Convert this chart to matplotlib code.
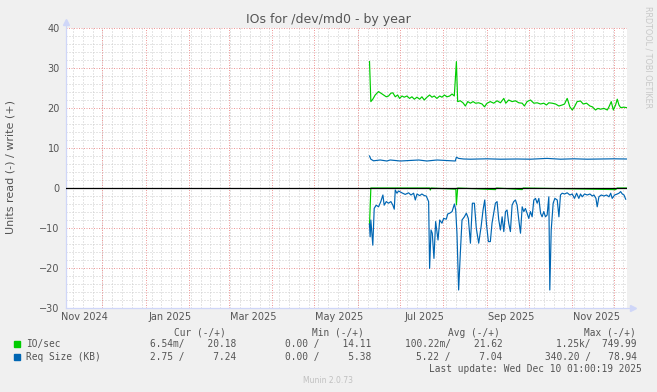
import matplotlib
matplotlib.use("Agg")
import matplotlib.pyplot as plt
from matplotlib.patches import Rectangle
from matplotlib.ticker import MultipleLocator
import pandas as pd

# Colores de Munin
FONDO = "#F0F0F0"
EJE = "#CFD6F8"
TEXTO = "#555555"
REJILLA = "#CCCCCC"
REJILLA_MAYOR = "#EE9A9A"
VERDE = "#00CC00"
AZUL = "#0066B3"

# Datos: días contados desde el 1 de junio de 2025
base = pd.Timestamp("2025-06-01")

# IO/sec escritura (+)
dias_io_w = [8.45, 9.4, 10.8, 12.5, 14.9, 16.6, 18.5, 20.4, 22.0, 23.7, 25.1, 26.8, 28.5, 29.9,
             31.6, 33.2, 35.1, 37.0, 38.7, 40.4, 42.3, 44.2, 45.8, 47.5, 49.4, 51.3, 53.0, 54.6,
             56.5, 58.5, 60.1, 61.8, 63.7, 65.6, 67.3, 68.9, 70.4, 71.3, 73.2, 75.1, 76.8, 78.5,
             80.4, 82.3, 84.0, 86.3, 88.7, 90.4, 92.3, 94.6, 97.0, 99.4, 101.8, 104.2, 105.6,
             107.7, 110.1, 112.5, 114.9, 117.3, 118.9, 120.8, 123.2, 125.6, 128.0, 130.4, 132.7,
             134.6, 136.3, 138.7, 141.1, 143.5, 145.8, 147.5, 149.4, 151.3, 153.0, 154.6, 156.5,
             158.9, 160.8, 163.2, 165.6, 167.3, 169.6, 171.3, 173.2, 175.6, 178.0, 179.2, 180.8,
             182.3, 183.9, 185.1, 186.3, 187.5, 189.9, 191.6]
io_w = [31.6, 21.6, 22.2, 23.25, 24.1, 23.7, 23.25, 22.8, 23.0, 23.7, 23.8, 22.8, 23.25, 22.4,
        23.0, 22.7, 23.0, 22.4, 22.8, 22.2, 22.7, 22.2, 22.8, 22.0, 22.7, 23.25, 22.7, 23.0,
        22.4, 23.0, 22.7, 23.25, 22.8, 23.0, 23.5, 23.0, 31.6, 21.6, 21.8, 21.3, 20.5, 21.6,
        21.2, 21.6, 21.2, 21.3, 21.0, 20.3, 21.2, 21.6, 21.2, 21.8, 21.3, 22.4, 21.2,
        22.0, 21.6, 21.8, 21.3, 21.2, 20.5, 21.6, 22.0, 21.2, 21.3, 21.0, 21.2,
        20.75, 21.3, 21.2, 21.0, 20.5, 20.75, 21.0, 22.4, 20.3, 19.5, 20.3, 21.6,
        21.75, 21.0, 21.2, 20.5, 20.3, 19.5, 19.9, 19.7, 19.9, 19.5, 20.3, 21.6,
        19.5, 20.75, 22.2, 20.75, 20.1, 20.2, 20.1]

# IO/sec lectura (-)
dias_io_r = [8.45, 9.4, 51.3, 51.8, 52.3, 70.0, 70.4, 71.3, 98.2, 99.0, 117.3, 118.0, 184.0,
             185.0, 191.6]
io_r = [9.2, 0.0, 0.0, 0.5, 0.0, 0.3, 4.2, 0.0, 0.4, 0.0, 0.4, 0.0, 0.4, 0.0, 0.0]

# Req Size escritura (+)
dias_req_w = [8.45, 9.4, 11.3, 16.1, 20.8, 23.2, 30.4, 43.5, 49.4, 56.5, 69.6, 70.4, 72.0,
              75.6, 80.4, 92.3, 101.8, 113.7, 123.2, 135.1, 144.6, 154.2, 163.7, 173.2,
              182.7, 191.6]
req_w = [8.0, 7.2, 6.8, 7.0, 6.75, 7.0, 6.75, 7.0, 6.75, 7.0, 6.75, 7.7, 7.4,
         7.25, 7.2, 7.3, 7.2, 7.25, 7.2, 7.4, 7.2, 7.3, 7.2, 7.25, 7.3, 7.25]

# Req Size lectura (-)
dias_req_r = [8.4, 8.9, 9.4, 10.8, 11.8, 13.2, 14.9, 16.5, 18.0, 18.9, 20.4, 22.0, 23.7, 25.1,
              26.1, 26.8, 28.0, 29.2, 31.5, 33.9, 36.3, 38.0, 39.9, 41.1, 42.3, 44.2, 45.8,
              47.5, 48.9, 50.6, 51.3, 52.3, 53.2, 54.4, 55.6, 57.3, 58.5, 60.1, 61.3, 63.2,
              64.2, 65.6, 67.3, 69.0, 69.9, 70.8, 72.0, 73.2, 74.4, 76.1, 77.5, 78.9, 80.4,
              81.8, 83.2, 84.6, 86.3, 88.0, 89.4, 90.6, 91.8, 93.2, 94.6, 95.8, 97.0, 98.2,
              99.4, 100.6, 101.8, 103.0, 104.2, 105.4, 106.5, 107.7, 108.9, 110.1, 111.3,
              112.5, 113.7, 114.9, 116.1, 117.3, 118.5, 119.6, 120.8, 122.0, 123.2, 124.4,
              125.6, 126.8, 128.0, 129.2, 130.4, 131.5, 132.7, 133.9, 135.1, 136.3, 137.0,
              138.0, 139.4, 140.6, 142.3, 143.5, 144.6, 145.8, 147.5, 149.4, 151.3, 153.0,
              154.6, 156.1, 157.7, 158.9, 160.1, 161.8, 163.7, 165.6, 167.3, 168.5, 169.9,
              170.8, 172.0, 173.7, 175.6, 177.5, 179.2, 180.4, 181.5, 183.2, 185.1, 186.3,
              187.5, 188.7, 189.9, 191.1]
req_r = [9.0, 12.2, 8.0, 14.3, 5.1, 4.3, 4.7, 3.4, 1.75, 4.3, 3.4, 3.8, 3.4, 4.3,
         5.3, 0.5, 1.3, 0.75, 1.2, 1.6, 1.2, 1.75, 1.3, 3.0, 1.5, 1.9, 1.5,
         1.9, 2.0, 3.4, 20.1, 10.5, 11.3, 17.6, 8.4, 13.0, 8.0, 8.8, 7.6, 7.8,
         6.5, 6.3, 5.9, 4.0, 5.5, 11.3, 25.5, 16.3, 8.0, 7.2, 6.3, 7.6, 13.8,
         3.8, 3.8, 10.1, 13.8, 9.7, 5.5, 3.0, 8.8, 13.4, 13.4, 8.8, 6.3, 3.8,
         3.4, 8.0, 10.5, 7.2, 10.9, 5.9, 5.5, 8.8, 10.9, 4.3, 3.4,
         3.0, 4.3, 8.0, 11.3, 4.7, 5.9, 5.1, 6.3, 7.6, 5.9, 7.2,
         3.0, 2.6, 3.8, 2.6, 6.3, 7.2, 5.9, 7.2, 6.75, 2.2, 25.5,
         10.5, 3.8, 2.6, 3.0, 7.2, 1.75, 1.3, 1.5, 1.2, 1.75, 1.5,
         2.6, 1.3, 2.6, 1.5, 2.2, 1.5, 1.75, 1.5, 2.0, 1.75, 2.6,
         4.7, 2.2, 1.75, 2.0, 1.75, 2.2, 1.3, 2.6, 1.75, 1.5, 1.3,
         0.9, 1.5, 1.75, 2.8]

# Leyenda
series = ["IO/sec", "Req Size (KB)"]
colores = [VERDE, AZUL]
cur = ["6.54m/    20.18", "2.75 /     7.24"]
minimo = ["0.00 /    14.11", "0.00 /     5.38"]
media = ["100.22m/    21.62", "5.22 /     7.04"]
maximo = ["1.25k/  749.99", "340.20 /   78.94"]


def fechas(dias):
    return base + pd.to_timedelta(dias, unit="D")


W, H = 657, 392
fig = plt.figure(figsize=(W / 100, H / 100), dpi=100, facecolor=FONDO)
ax = fig.add_axes([66 / W, 1 - 308 / H, 561 / W, 280 / H])
ax.set_facecolor("white")

inicio = pd.Timestamp("2024-11-05 01:00")
fin = pd.Timestamp("2025-12-10 01:00")
ax.set_xlim(inicio, fin)
ax.set_ylim(-30, 40)

# Rejilla vertical: semanas (domingo) y meses
meses = pd.date_range("2024-12-01", "2025-12-01", freq="MS")
for s in pd.date_range(inicio, fin, freq="W-SUN"):
    if s not in meses:
        ax.axvline(s, color=REJILLA, lw=0.72, ls=(0, (1, 2)), zorder=0.5)
for m in meses:
    ax.axvline(m, color=REJILLA_MAYOR, lw=0.72, ls=(0, (1, 1.5)), zorder=0.6)

# Rejilla horizontal
ax.yaxis.set_major_locator(MultipleLocator(10))
ax.yaxis.set_minor_locator(MultipleLocator(2))
ax.grid(axis="y", which="minor", color=REJILLA, lw=0.72, ls=(0, (1, 2)))
ax.grid(axis="y", which="major", color=REJILLA_MAYOR, lw=0.72, ls=(0, (1, 1.5)))
ax.set_axisbelow(True)

# Etiquetas del eje x cada dos meses
meses_etiqueta = pd.date_range("2024-11-01", "2025-11-01", freq="2MS")
ax.set_xticks(meses_etiqueta + pd.Timedelta(days=17.5))
ax.set_xticklabels([m.strftime("%b %Y") for m in meses_etiqueta])

ax.tick_params(axis="both", which="both", length=0, labelsize=7, colors=TEXTO)
ax.tick_params(axis="y", pad=4.5)
ax.tick_params(axis="x", pad=3.0)
for sp in ax.spines.values():
    sp.set_visible(False)

# Series (lectura en negativo, escritura en positivo)
ax.plot(fechas(dias_io_r), [-v for v in io_r], color=VERDE, lw=0.85)
ax.plot(fechas(dias_io_w), io_w, color=VERDE, lw=0.85)
ax.plot(fechas(dias_req_r), [-v for v in req_r], color=AZUL, lw=0.85)
ax.plot(fechas(dias_req_w), req_w, color=AZUL, lw=0.85)
ax.axhline(0, color="black", lw=0.9, zorder=3)

# Ejes con flechas
ax.plot([0, 0], [0, 1.022], transform=ax.transAxes, color=EJE, lw=0.9, clip_on=False)
ax.plot([0], [1.022], marker="^", ms=4.5, color=EJE, transform=ax.transAxes, clip_on=False)
ax.plot([0, 1.011], [0, 0], transform=ax.transAxes, color=EJE, lw=0.9, clip_on=False)
ax.plot([1.011], [0], marker=">", ms=4.5, color=EJE, transform=ax.transAxes, clip_on=False)

# Títulos
fig.text(328.5 / W, 1 - 19 / H, "IOs for /dev/md0 - by year", ha="center", va="center",
         fontsize=9, color=TEXTO)
fig.text(10.5 / W, 1 - 167 / H, "Units read (-) / write (+)", rotation=90, ha="center",
         va="center", fontsize=8, color=TEXTO)
fig.text(648 / W, 1 - 57 / H, "RRDTOOL / TOBI OETIKER", rotation=270, ha="center",
         va="center", fontsize=5.8, color="#C8C8C8")

# Leyenda
mono = dict(family="DejaVu Sans Mono", fontsize=6.85, color=TEXTO, va="center")
fila_y = [344.3, 356.7]
for x, txt in [(226.2, "Cur (-/+)"), (363.7, "Min (-/+)"), (499.4, "Avg (-/+)"), (636, "Max (-/+)")]:
    fig.text(x / W, 1 - 332.7 / H, txt, ha="right", **mono)
for i, nombre in enumerate(series):
    y = fila_y[i]
    fig.add_artist(Rectangle((14 / W, 1 - (y + 3) / H), 6 / W, 6 / H, color=colores[i],
                             transform=fig.transFigure))
    fig.text(26 / W, 1 - y / H, nombre, ha="left", **mono)
    fig.text(236.7 / W, 1 - y / H, cur[i], ha="right", **mono)
    fig.text(370.8 / W, 1 - y / H, minimo[i], ha="right", **mono)
    fig.text(502.7 / W, 1 - y / H, media[i], ha="right", **mono)
    fig.text(636.8 / W, 1 - y / H, maximo[i], ha="right", **mono)
fig.text(642 / W, 1 - 368.7 / H, "Last update: Wed Dec 10 01:00:19 2025", ha="right", **mono)
fig.text(327.6 / W, 1 - 380.7 / H, "Munin 2.0.73", ha="center", va="center", fontsize=5.5,
         color="#C0C0C0")

fig.savefig("out.png", dpi=100, facecolor=FONDO)
